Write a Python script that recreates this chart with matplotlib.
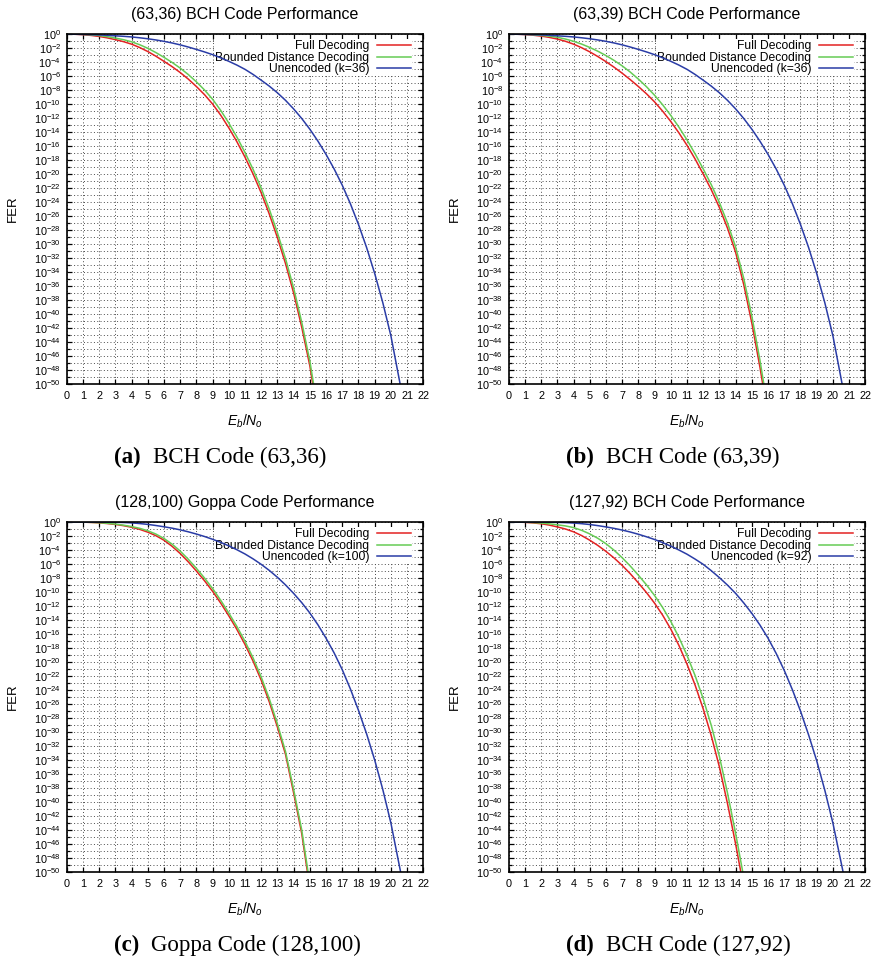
import matplotlib
matplotlib.use('Agg')
import matplotlib.pyplot as plt
from matplotlib.ticker import FixedLocator, LogFormatterMathtext, NullFormatter

plt.rcParams['font.family'] = ['Liberation Sans', 'DejaVu Sans']
plt.rcParams['mathtext.fontset'] = 'custom'
plt.rcParams['mathtext.rm'] = 'Liberation Sans'
plt.rcParams['mathtext.it'] = 'Liberation Sans:italic'
plt.rcParams['mathtext.bf'] = 'Liberation Sans:bold'

# log10(FER) every 0.5 dB starting at Eb/No = 0;
# *_end is the Eb/No where the curve reaches 1e-50
full_6336 = [0, -0.03, -0.1, -0.2, -0.35, -0.55, -0.8, -1.09, -1.45, -1.93, -2.5,
             -3.17, -3.9, -4.66, -5.5, -6.44, -7.5, -8.66, -10.0, -11.59, -13.4,
             -15.39, -17.6, -20.01, -22.7, -25.73, -29.1, -32.8, -37.0, -41.88, -47.4]
full_6336_end = 15.18
bdd_6336 = [0, -0.02, -0.06, -0.12, -0.22, -0.38, -0.58, -0.81, -1.11, -1.53, -2.04,
            -2.65, -3.33, -4.06, -4.87, -5.79, -6.83, -7.99, -9.32, -10.91, -12.72,
            -14.72, -16.93, -19.35, -22.03, -25.04, -28.4, -32.09, -36.28, -41.17, -46.7]
bdd_6336_end = 15.23
unc_36 = [-0.02, -0.04, -0.06, -0.09, -0.13, -0.19, -0.26, -0.33, -0.42, -0.54, -0.68,
          -0.85, -1.05, -1.28, -1.55, -1.86, -2.2, -2.56, -2.95, -3.4, -3.9,
          -4.44, -5.05, -5.78, -6.6, -7.45, -8.4, -9.48, -10.7, -12.07, -13.6,
          -15.31, -17.2, -19.28, -21.6, -24.24, -27.2, -30.49, -34.2, -38.37, -43.1]
unc_36_end = 20.57

full_6339 = [0, -0.03, -0.08, -0.17, -0.3, -0.48, -0.72, -1.04, -1.45, -1.96, -2.55,
             -3.22, -3.95, -4.74, -5.6, -6.52, -7.5, -8.54, -9.7, -11.03, -12.5,
             -14.12, -15.9, -17.86, -20.0, -22.26, -24.8, -27.74, -31.2, -35.8, -41.3,
             -47.6]
full_6339_end = 15.67
bdd_6339 = [0, -0.02, -0.05, -0.11, -0.2, -0.31, -0.47, -0.72, -1.04, -1.44, -1.92,
            -2.46, -3.08, -3.77, -4.55, -5.44, -6.44, -7.53, -8.75, -10.12, -11.63,
            -13.3, -15.13, -17.12, -19.27, -21.54, -24.08, -27.01, -30.44, -34.9, -40.3,
            -46.6]
bdd_6339_end = 15.74

full_128100 = [0, -0.01, -0.02, -0.06, -0.12, -0.22, -0.35, -0.52, -0.75, -1.05, -1.45,
               -1.95, -2.6, -3.47, -4.5, -5.69, -7.0, -8.39, -9.9, -11.58, -13.4,
               -15.35, -17.5, -19.89, -22.6, -25.71, -29.3, -33.2, -38.7, -44.5]
full_128100_end = 14.85
bdd_128100 = [0, -0.01, -0.02, -0.05, -0.1, -0.18, -0.3, -0.45, -0.65, -0.9, -1.25,
              -1.72, -2.35, -3.16, -4.15, -5.32, -6.62, -8.0, -9.5, -11.18, -13.0,
              -14.93, -17.05, -19.43, -22.15, -25.26, -28.85, -32.8, -38.2, -44.0]
bdd_128100_end = 14.89
unc_100 = [0, 0, 0, -0.005, -0.01, -0.02, -0.04, -0.07, -0.13, -0.22, -0.34,
           -0.5, -0.68, -0.88, -1.12, -1.4, -1.72, -2.07, -2.47, -2.91, -3.41,
           -3.96, -4.57, -5.27, -6.05, -6.92, -7.9, -8.99, -10.2, -11.52, -13.0,
           -14.69, -16.6, -18.71, -21.1, -23.84, -26.9, -30.25, -34.0, -38.21, -43.0]
unc_100_end = 20.6

full_12792 = [0, -0.01, -0.05, -0.13, -0.25, -0.44, -0.7, -1.0, -1.4, -1.94, -2.6,
              -3.35, -4.2, -5.14, -6.2, -7.39, -8.7, -10.08, -11.6, -13.32, -15.3,
              -17.63, -20.3, -23.3, -26.7, -30.56, -35.0, -40.24, -46.0]
full_12792_end = 14.32
bdd_12792 = [0, -0.01, -0.03, -0.08, -0.15, -0.26, -0.4, -0.56, -0.8, -1.19, -1.7,
             -2.33, -3.1, -4.03, -5.1, -6.29, -7.6, -8.98, -10.5, -12.23, -14.2,
             -16.47, -19.05, -21.94, -25.25, -29.08, -33.5, -38.73, -44.5]
bdd_12792_end = 14.44
unc_92 = [0, 0, 0, -0.005, -0.01, -0.03, -0.05, -0.09, -0.15, -0.24, -0.36,
          -0.52, -0.7, -0.91, -1.15, -1.43, -1.75, -2.11, -2.5, -2.95, -3.45,
          -4.0, -4.6, -5.3, -6.05, -6.96, -7.95, -9.02, -10.2, -11.56, -13.05,
          -14.72, -16.6, -18.77, -21.2, -23.95, -27.0, -30.4, -34.1, -38.3, -43.0]
unc_92_end = 20.63

titles = ['(63,36) BCH Code Performance', '(63,39) BCH Code Performance',
          '(128,100) Goppa Code Performance', '(127,92) BCH Code Performance']
tags = ['(a)', '(b)', '(c)', '(d)']
captions = ['BCH Code (63,36)', 'BCH Code (63,39)', 'Goppa Code (128,100)', 'BCH Code (127,92)']
k_values = [36, 36, 100, 92]

series = [
    [(full_6336, full_6336_end), (bdd_6336, bdd_6336_end), (unc_36, unc_36_end)],
    [(full_6339, full_6339_end), (bdd_6339, bdd_6339_end), (unc_36, unc_36_end)],
    [(full_128100, full_128100_end), (bdd_128100, bdd_128100_end), (unc_100, unc_100_end)],
    [(full_12792, full_12792_end), (bdd_12792, bdd_12792_end), (unc_92, unc_92_end)],
]
colors = ['#e32222', '#66cc55', '#2a3ca6']


def curve(vals, end):
    x = [0.5 * i for i in range(len(vals))] + [end]
    y = [10.0 ** v for v in vals] + [1e-50]
    return x, y


W, H = 877, 964
fig = plt.figure(figsize=(W / 100, H / 100), dpi=100)

# panel corners in pixels (left, top) and axes size
corners = [(66.7, 34), (508.7, 34), (66.7, 522), (508.7, 522)]
aw, ah = 356.6, 350
cap_pos = [(114, 463), (566, 463), (114, 951), (566, 951)]

for i, (l, t) in enumerate(corners):
    ax = fig.add_axes([l / W, 1 - (t + ah) / H, aw / W, ah / H])
    labels = ['Full Decoding', 'Bounded Distance Decoding', 'Unencoded (k=%d)' % k_values[i]]
    for (vals, end), c, lab in zip(series[i], colors, labels):
        x, y = curve(vals, end)
        ax.plot(x, y, color=c, lw=1.1, label=lab, zorder=2)

    ax.set_yscale('log')
    ax.set_xlim(0, 22)
    ax.set_ylim(1e-50, 1)
    ax.xaxis.set_major_locator(FixedLocator(range(23)))
    ax.yaxis.set_major_locator(FixedLocator([10.0 ** -e for e in range(0, 51, 2)]))
    ax.yaxis.set_minor_locator(FixedLocator([10.0 ** -e for e in range(1, 50, 2)]))
    ax.yaxis.set_major_formatter(LogFormatterMathtext())
    ax.yaxis.set_minor_formatter(NullFormatter())

    ax.grid(True, which='both', color='0.3', linestyle=(0, (1, 2.4)), linewidth=0.7)
    ax.set_axisbelow(True)
    ax.tick_params(which='both', direction='in', top=True, right=True, width=0.9,
                   labelsize=7.8)
    ax.tick_params(which='major', length=3.5)
    ax.tick_params(which='minor', length=2.2)
    ax.tick_params(axis='x', pad=5)
    ax.tick_params(axis='y', pad=4)
    for sp in ax.spines.values():
        sp.set_linewidth(1.2)

    ax.set_title(titles[i], fontsize=11.5, pad=11)
    ax.set_ylabel('FER', fontsize=9.5)
    ax.yaxis.set_label_coords(-0.134, 0.5)
    ax.set_xlabel('$E_b/N_o$', fontsize=10)
    ax.xaxis.set_label_coords(0.5, -0.083)

    leg = ax.legend(loc='upper right', bbox_to_anchor=(0.968, 0.985), markerfirst=False,
                    frameon=True, fancybox=False, framealpha=1, edgecolor='none',
                    facecolor='white', fontsize=8.7, handlelength=2.8,
                    handletextpad=0.6, borderpad=0.1, labelspacing=-0.05,
                    borderaxespad=0)
    leg.set_zorder(1)

renderer = fig.canvas.get_renderer()
for (cx, cy), tag, name in zip(cap_pos, tags, captions):
    bold = fig.text(cx / W, 1 - cy / H, tag, fontfamily='Liberation Serif',
                    fontweight='bold', fontsize=16.5, va='baseline', ha='left')
    w1 = bold.get_window_extent(renderer).width
    fig.text((cx + w1 + 12) / W, 1 - cy / H, name, fontfamily='Liberation Serif',
             fontsize=16.5, va='baseline', ha='left')

fig.savefig('out.png', dpi=100)
